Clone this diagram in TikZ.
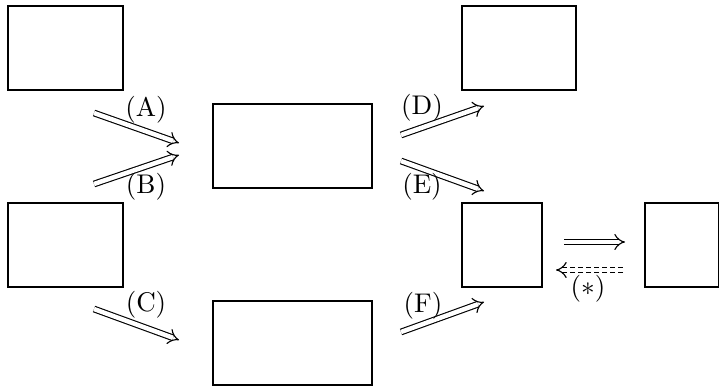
\documentclass[tikz,border=0pt]{standalone}
\usetikzlibrary{arrows.meta}
\begin{document}
\begin{tikzpicture}[x=0.4pt,y=-0.4pt,
  box/.style={draw,line width=0.45pt,inner sep=0pt,minimum height=33.6pt},
  dbl/.style={double,double distance=1.8pt,line width=0.45pt,-{Implies}},
  lbl/.style={inner sep=0pt,font=\fontsize{10.8}{13}\selectfont}]
\useasboundingbox (0,0) rectangle (719,386);
% boxes
\node[box,minimum width=46pt] (b1) at (65.5,48) {};
\node[box,minimum width=46pt] (b2) at (65.5,245) {};
\node[box,minimum width=63.6pt] (c1) at (292.5,146) {};
\node[box,minimum width=63.6pt] (c2) at (292.5,343) {};
\node[box,minimum width=45.6pt] (r1) at (519,48) {};
\node[box,minimum width=32pt] (r2) at (502,245) {};
\node[box,minimum width=29.4pt] (r3) at (681.75,245) {};
% arrow endpoints
\coordinate (as) at (94,113);  \coordinate (ae) at (179,143);
\coordinate (bs) at (94,184);  \coordinate (be) at (179,155);
\coordinate (cs) at (94,309);  \coordinate (ce) at (179,340);
\coordinate (ds) at (401,135); \coordinate (de) at (484,106);
\coordinate (es) at (401,161); \coordinate (ee) at (484,191);
\coordinate (fs) at (401,332); \coordinate (fe) at (484,302);
\coordinate (hs) at (564,242); \coordinate (he) at (625,242);
\coordinate (ks) at (623,270); \coordinate (ke) at (556,270);
\draw[dbl] (as) -- (ae);
\draw[dbl] (bs) -- (be);
\draw[dbl] (cs) -- (ce);
\draw[dbl] (ds) -- (de);
\draw[dbl] (es) -- (ee);
\draw[dbl] (fs) -- (fe);
\draw[dbl] (hs) -- (he);
\draw[dbl,dash pattern=on 2pt off 1.2pt] (ks) -- (ke);
% labels
\node[lbl] (la) at (146,110) {(A)};
\node[lbl] (lb) at (146,187) {(B)};
\node[lbl] (lc) at (146,305) {(C)};
\node[lbl] (ld) at (422,108) {(D)};
\node[lbl] (le) at (422,187) {(E)};
\node[lbl] (lf) at (423,306) {(F)};
\node[lbl] (ls) at (588,289) {($*$)};
\end{tikzpicture}
\end{document}
